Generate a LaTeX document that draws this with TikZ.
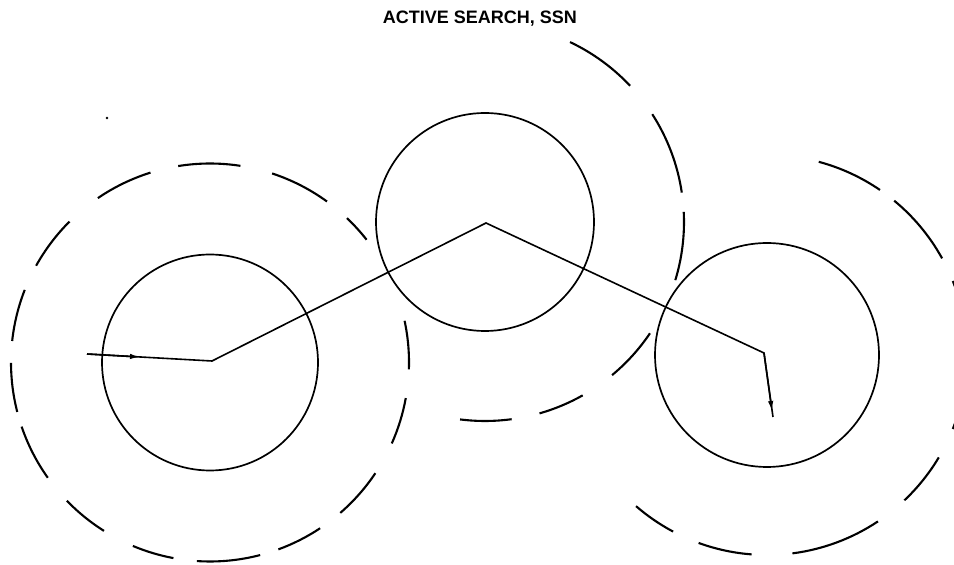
\documentclass[tikz,border=0pt]{standalone}
\usepackage{fontspec}
\setmainfont{Liberation Sans}
\usetikzlibrary{arrows.meta}
\begin{document}
\begin{tikzpicture}[x=1pt,y=1pt,
  zone/.style={circle,draw,line width=1.7pt,inner sep=0pt},
  dashc/.style={line width=2.1pt,line cap=butt},
  route/.style={line width=1.6pt,line join=miter},
  headtip/.style={line width=1.6pt,-{Latex[length=10pt,width=5.5pt]}},
  titletext/.style={font=\bfseries\fontsize{18}{20}\selectfont,anchor=base,inner sep=0pt}]
\useasboundingbox (0,0) rectangle (954,565);
\clip (0,0) rectangle (954,565);
% centres
\coordinate (L) at (210,202.5);
\coordinate (M) at (485,343);
\coordinate (R) at (767,210);
% solid circles
\node[zone,minimum size=216pt] (cl) at (L) {};
\node[zone,minimum size=218pt] (cm) at (M) {};
\node[zone,minimum size=224pt] (cr) at (R) {};
% dashed detection circles
\foreach \a/\b in {99.2/81.2,71.8/54.0,46.5/38.1,12.1/-2.0,-10.3/-24.0,-33.8/-49.1,-56.4/-69.9,-75.4/-93.8,-100.6/-112.8,-122.2/-136.0,-144.6/-161.2,-165.6/-179.9,173.8/158.6,150.9/134.9,124.3/107.4}
  \draw[dashc] (L) ++(\a:199) arc[start angle=\a,end angle=\b,radius=199];
\foreach \a/\b in {64.7/43.2,32.8/8.5,2.9/-17,-34/-50.3,-60.6/-74.1,-82.3/-97.2}
  \draw[dashc] (M) ++(\a:199) arc[start angle=\a,end angle=\b,radius=199];
\foreach \a/\b in {75.0/55.6,50.5/28.9,21.7/8,-8/-21.7,-30.8/-46.6,-56.3/-82.7,-94.4/-110.0,-118.0/-130.9}
  \draw[dashc] (R) ++(\a:200) arc[start angle=\a,end angle=\b,radius=200];
% track
\coordinate (s) at (87,211);
\coordinate (a1) at (140,208);
\coordinate (v1) at (212,204);
\coordinate (v2) at (486,342);
\coordinate (v3) at (764,212);
\coordinate (a2) at (772,154);
\coordinate (e) at (773,148);
\draw[route] (s) -- (v1) -- (v2) -- (v3) -- (e);
\draw[headtip] (s) -- (a1);
\draw[headtip] (v3) -- (a2);
% stray dot
\fill (107,447) circle (1.4pt);
% title
\node[titletext] (title) at (480,541) {ACTIVE SEARCH, SSN};
\end{tikzpicture}
\end{document}
